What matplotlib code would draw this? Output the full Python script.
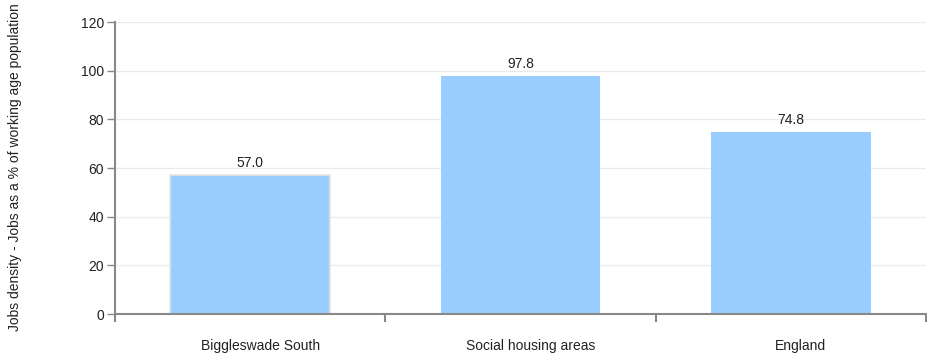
import matplotlib.pyplot as plt
from matplotlib.transforms import ScaledTranslation

categories = ["Biggleswade South", "Social housing areas", "England"]
values = [57.0, 97.8, 74.8]
yticks = [0, 20, 40, 60, 80, 100, 120]

plt.rcParams["font.family"] = ["Liberation Sans", "DejaVu Sans"]

fig = plt.figure(figsize=(9.28, 3.54), dpi=100)
ax = fig.add_axes([115 / 928, 1 - 314 / 354, 811 / 928, 292 / 354])

x = list(range(len(categories)))
bars = ax.bar(x, values, width=0.59, color="#99ccff", zorder=2)
bars[0].set_edgecolor("#e6e6dc")
bars[0].set_linewidth(1.2)

for xi, v in zip(x, values):
    ax.text(xi, v + 2, f"{v:.1f}", ha="center", va="bottom", fontsize=10, color="#222222")

ax.set_xlim(-0.5, len(categories) - 0.5)
ax.set_ylim(0, 120)
ax.set_yticks(yticks)
ax.set_yticklabels([str(t) for t in yticks], fontsize=10, color="#222222")

# category labels centred (nudged right a bit like the original), ticks at the boundaries
ax.set_xticks([i - 0.5 for i in range(len(categories) + 1)])
ax.set_xticklabels([])
ax.set_xticks(x, minor=True)
ax.set_xticklabels(categories, minor=True, fontsize=10, color="#222222")
ax.tick_params(axis="x", which="minor", length=0, pad=18)
ax.tick_params(axis="x", which="major", length=6, width=1.5, color="#888888", direction="out")
ax.tick_params(axis="y", length=6, width=1, color="#888888", pad=2)
shift = ScaledTranslation(10 / 100, 0, fig.dpi_scale_trans)
for lbl in ax.get_xticklabels(minor=True):
    lbl.set_transform(lbl.get_transform() + shift)

for y in yticks[1:]:
    ax.axhline(y, color="#ebebeb", lw=1, zorder=1)

for s in ["top", "right"]:
    ax.spines[s].set_visible(False)
for s in ["left", "bottom"]:
    ax.spines[s].set_color("#888888")
    ax.spines[s].set_linewidth(1.5)

fig.text(0.016, 1 - 167 / 354, "Jobs density - Jobs as a % of working age population",
         rotation=90, ha="center", va="center", fontsize=10, color="#222222")

fig.savefig("out.png", dpi=100)
